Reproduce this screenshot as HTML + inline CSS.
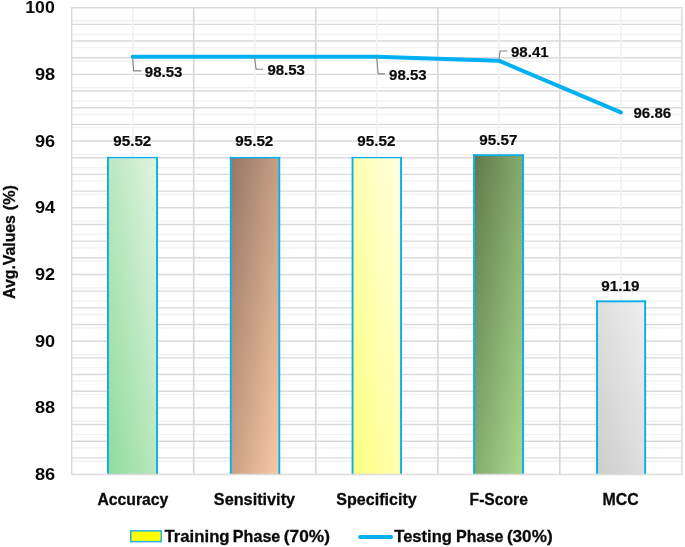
<!DOCTYPE html>
<html lang="en">
<head>
<meta charset="utf-8">
<title>Training and Testing Phase Chart</title>
<style>
html,body{margin:0;padding:0;background:#fff;}
body{width:685px;height:547px;overflow:hidden;}
svg{display:block;}
text{font-family:"Liberation Sans", sans-serif;font-weight:700;fill:#0a0a0a;}
.t14{font-size:16.7px;stroke:#0a0a0a;stroke-width:0.3px;}
.t14n{font-size:17.4px;}
.t12{font-size:14.1px;stroke:#0a0a0a;stroke-width:0.18px;}
</style>
</head>
<body>
<svg width="685" height="547" viewBox="0 0 685 547">
<defs>
<linearGradient id="g1" x1="0" y1="1" x2="1" y2="0"><stop offset="0" stop-color="#90db9b"/><stop offset="1" stop-color="#e2f4e2"/></linearGradient>
<linearGradient id="g2" x1="0" y1="0" x2="1" y2="1"><stop offset="0" stop-color="#947664"/><stop offset="1" stop-color="#fcc9a6"/></linearGradient>
<linearGradient id="g3" x1="0" y1="1" x2="1" y2="0"><stop offset="0" stop-color="#ffff7e"/><stop offset="1" stop-color="#ffffe2"/></linearGradient>
<linearGradient id="g4" x1="0" y1="0" x2="1" y2="1"><stop offset="0" stop-color="#5f7a4b"/><stop offset="1" stop-color="#abdb8e"/></linearGradient>
<linearGradient id="g5" x1="0" y1="1" x2="1" y2="0"><stop offset="0" stop-color="#cdcdcd"/><stop offset="1" stop-color="#efefef"/></linearGradient>
</defs>
<rect x="0" y="0" width="685" height="547" fill="#ffffff"/>
<g stroke="#dadada" stroke-width="1.4" fill="none">
<line x1="71.70" y1="24.33" x2="681.85" y2="24.33"/>
<line x1="71.70" y1="41.00" x2="681.85" y2="41.00"/>
<line x1="71.70" y1="57.68" x2="681.85" y2="57.68"/>
<line x1="71.70" y1="74.36" x2="681.85" y2="74.36"/>
<line x1="71.70" y1="91.03" x2="681.85" y2="91.03"/>
<line x1="71.70" y1="107.71" x2="681.85" y2="107.71"/>
<line x1="71.70" y1="124.39" x2="681.85" y2="124.39"/>
<line x1="71.70" y1="141.06" x2="681.85" y2="141.06"/>
<line x1="71.70" y1="157.74" x2="681.85" y2="157.74"/>
<line x1="71.70" y1="174.42" x2="681.85" y2="174.42"/>
<line x1="71.70" y1="191.09" x2="681.85" y2="191.09"/>
<line x1="71.70" y1="207.77" x2="681.85" y2="207.77"/>
<line x1="71.70" y1="224.45" x2="681.85" y2="224.45"/>
<line x1="71.70" y1="241.13" x2="681.85" y2="241.13"/>
<line x1="71.70" y1="257.80" x2="681.85" y2="257.80"/>
<line x1="71.70" y1="274.48" x2="681.85" y2="274.48"/>
<line x1="71.70" y1="291.16" x2="681.85" y2="291.16"/>
<line x1="71.70" y1="307.83" x2="681.85" y2="307.83"/>
<line x1="71.70" y1="324.51" x2="681.85" y2="324.51"/>
<line x1="71.70" y1="341.19" x2="681.85" y2="341.19"/>
<line x1="71.70" y1="357.86" x2="681.85" y2="357.86"/>
<line x1="71.70" y1="374.54" x2="681.85" y2="374.54"/>
<line x1="71.70" y1="391.22" x2="681.85" y2="391.22"/>
<line x1="71.70" y1="407.89" x2="681.85" y2="407.89"/>
<line x1="71.70" y1="424.57" x2="681.85" y2="424.57"/>
<line x1="71.70" y1="441.25" x2="681.85" y2="441.25"/>
<line x1="71.70" y1="457.92" x2="681.85" y2="457.92"/>
</g>
<g stroke="#f1f1f1" stroke-width="1.3" fill="none">
<line x1="71.70" y1="20.99" x2="681.85" y2="20.99"/>
<line x1="71.70" y1="34.33" x2="681.85" y2="34.33"/>
<line x1="71.70" y1="47.67" x2="681.85" y2="47.67"/>
<line x1="71.70" y1="61.02" x2="681.85" y2="61.02"/>
<line x1="71.70" y1="87.70" x2="681.85" y2="87.70"/>
<line x1="71.70" y1="101.04" x2="681.85" y2="101.04"/>
<line x1="71.70" y1="114.38" x2="681.85" y2="114.38"/>
<line x1="71.70" y1="127.72" x2="681.85" y2="127.72"/>
<line x1="71.70" y1="154.41" x2="681.85" y2="154.41"/>
<line x1="71.70" y1="167.75" x2="681.85" y2="167.75"/>
<line x1="71.70" y1="181.09" x2="681.85" y2="181.09"/>
<line x1="71.70" y1="194.43" x2="681.85" y2="194.43"/>
<line x1="71.70" y1="221.11" x2="681.85" y2="221.11"/>
<line x1="71.70" y1="234.45" x2="681.85" y2="234.45"/>
<line x1="71.70" y1="247.80" x2="681.85" y2="247.80"/>
<line x1="71.70" y1="261.14" x2="681.85" y2="261.14"/>
<line x1="71.70" y1="287.82" x2="681.85" y2="287.82"/>
<line x1="71.70" y1="301.16" x2="681.85" y2="301.16"/>
<line x1="71.70" y1="314.50" x2="681.85" y2="314.50"/>
<line x1="71.70" y1="327.84" x2="681.85" y2="327.84"/>
<line x1="71.70" y1="354.53" x2="681.85" y2="354.53"/>
<line x1="71.70" y1="367.87" x2="681.85" y2="367.87"/>
<line x1="71.70" y1="381.21" x2="681.85" y2="381.21"/>
<line x1="71.70" y1="394.55" x2="681.85" y2="394.55"/>
<line x1="71.70" y1="421.23" x2="681.85" y2="421.23"/>
<line x1="71.70" y1="434.58" x2="681.85" y2="434.58"/>
<line x1="71.70" y1="447.92" x2="681.85" y2="447.92"/>
<line x1="71.70" y1="461.26" x2="681.85" y2="461.26"/>
</g>
<g stroke="#d9d9d9" stroke-width="1.7" fill="none">
<line x1="193.73" y1="7.65" x2="193.73" y2="474.60"/>
<line x1="315.76" y1="7.65" x2="315.76" y2="474.60"/>
<line x1="437.79" y1="7.65" x2="437.79" y2="474.60"/>
<line x1="559.82" y1="7.65" x2="559.82" y2="474.60"/>
</g>
<g stroke="#f1f1f1" stroke-width="1.5" fill="none">
<line x1="132.72" y1="7.65" x2="132.72" y2="474.60"/>
<line x1="254.75" y1="7.65" x2="254.75" y2="474.60"/>
<line x1="376.77" y1="7.65" x2="376.77" y2="474.60"/>
<line x1="498.81" y1="7.65" x2="498.81" y2="474.60"/>
<line x1="620.84" y1="7.65" x2="620.84" y2="474.60"/>
</g>
<rect x="107.50" y="157.40" width="49.95" height="316.60" fill="url(#g1)"/>
<g fill="#0aaeed"><rect x="107.00" y="156.90" width="1.90" height="317.10"/><rect x="156.05" y="156.90" width="1.90" height="317.10"/><rect x="107.00" y="156.90" width="50.95" height="1.35"/></g>
<rect x="230.30" y="157.40" width="49.45" height="316.60" fill="url(#g2)"/>
<g fill="#0aaeed"><rect x="229.80" y="156.90" width="1.90" height="317.10"/><rect x="278.35" y="156.90" width="1.90" height="317.10"/><rect x="229.80" y="156.90" width="50.45" height="1.50"/></g>
<rect x="352.10" y="157.40" width="49.40" height="316.60" fill="url(#g3)"/>
<g fill="#0aaeed"><rect x="351.60" y="156.90" width="1.90" height="317.10"/><rect x="400.10" y="156.90" width="1.90" height="317.10"/><rect x="351.60" y="156.90" width="50.40" height="1.35"/></g>
<rect x="473.65" y="154.80" width="49.80" height="319.20" fill="url(#g4)"/>
<g fill="#0aaeed"><rect x="473.15" y="154.30" width="1.90" height="319.70"/><rect x="522.05" y="154.30" width="1.90" height="319.70"/><rect x="473.15" y="154.30" width="50.80" height="1.80"/></g>
<rect x="596.60" y="300.90" width="49.00" height="173.10" fill="url(#g5)"/>
<g fill="#0aaeed"><rect x="596.10" y="300.40" width="1.90" height="173.60"/><rect x="644.20" y="300.40" width="1.90" height="173.60"/><rect x="596.10" y="300.40" width="50.00" height="1.90"/></g>
<rect x="71.70" y="7.65" width="610.15" height="466.95" fill="none" stroke="#dcdcdc" stroke-width="1.5" stroke-linejoin="round"/>
<polyline points="132.72,56.68 254.75,56.68 376.77,56.68 498.81,60.68 620.84,112.38" fill="none" stroke="#00b0f0" stroke-width="4" stroke-linecap="round" stroke-linejoin="round"/>
<g stroke="#858585" stroke-width="1.15" fill="none">
<polyline points="132.6,57.5 133.7,70.9 141.4,70.9"/>
<polyline points="254.6,57.5 256.1,69.2 263,69.2"/>
<polyline points="376.7,57.5 378.1,73.9 384.9,73.9"/>
<polyline points="498.8,60 500.1,51 507.5,51"/>
</g>
<text class="t14n" x="25.25" y="13.25" textLength="29.50" lengthAdjust="spacingAndGlyphs">100</text>
<text class="t14n" x="34.90" y="79.96" textLength="20.20" lengthAdjust="spacingAndGlyphs">98</text>
<text class="t14n" x="34.90" y="146.66" textLength="20.20" lengthAdjust="spacingAndGlyphs">96</text>
<text class="t14n" x="34.90" y="213.37" textLength="20.20" lengthAdjust="spacingAndGlyphs">94</text>
<text class="t14n" x="34.90" y="280.08" textLength="20.20" lengthAdjust="spacingAndGlyphs">92</text>
<text class="t14n" x="34.90" y="346.79" textLength="20.20" lengthAdjust="spacingAndGlyphs">90</text>
<text class="t14n" x="34.90" y="413.49" textLength="20.20" lengthAdjust="spacingAndGlyphs">88</text>
<text class="t14n" x="34.90" y="480.20" textLength="20.20" lengthAdjust="spacingAndGlyphs">86</text>
<text class="t14" transform="translate(15.2,298.9) rotate(-90)" y="0"><tspan x="0" textLength="83.8" lengthAdjust="spacingAndGlyphs">Avg.Values</tspan> <tspan x="88.7" textLength="25.2" lengthAdjust="spacingAndGlyphs">(%)</tspan></text>
<text class="t14" x="97.40" y="504.80" textLength="71.00" lengthAdjust="spacingAndGlyphs">Accuracy</text>
<text class="t14" x="213.80" y="504.80" textLength="81.30" lengthAdjust="spacingAndGlyphs">Sensitivity</text>
<text class="t14" x="336.30" y="504.80" textLength="80.50" lengthAdjust="spacingAndGlyphs">Specificity</text>
<text class="t14" x="469.60" y="504.80" textLength="58.30" lengthAdjust="spacingAndGlyphs">F-Score</text>
<text class="t14" x="602.60" y="504.80" textLength="36.20" lengthAdjust="spacingAndGlyphs">MCC</text>
<text class="t12" x="113.22" y="146.00" textLength="38.10" lengthAdjust="spacingAndGlyphs">95.52</text>
<text class="t12" x="235.25" y="146.00" textLength="38.10" lengthAdjust="spacingAndGlyphs">95.52</text>
<text class="t12" x="357.27" y="146.00" textLength="38.10" lengthAdjust="spacingAndGlyphs">95.52</text>
<text class="t12" x="479.31" y="144.60" textLength="38.10" lengthAdjust="spacingAndGlyphs">95.57</text>
<text class="t12" x="601.34" y="290.60" textLength="38.10" lengthAdjust="spacingAndGlyphs">91.19</text>
<text class="t12" x="144.80" y="76.70" textLength="37.60" lengthAdjust="spacingAndGlyphs">98.53</text>
<text class="t12" x="267.40" y="75.30" textLength="37.60" lengthAdjust="spacingAndGlyphs">98.53</text>
<text class="t12" x="389.10" y="79.80" textLength="37.60" lengthAdjust="spacingAndGlyphs">98.53</text>
<text class="t12" x="511.00" y="56.50" textLength="37.60" lengthAdjust="spacingAndGlyphs">98.41</text>
<text class="t12" x="633.50" y="118.00" textLength="37.60" lengthAdjust="spacingAndGlyphs">96.86</text>
<rect x="130.75" y="530.85" width="30.5" height="10.8" fill="#ffff00" stroke="#1fb1ea" stroke-width="1.5"/>
<text class="t14" y="542.0"><tspan x="164.5" textLength="65.1" lengthAdjust="spacingAndGlyphs">Training</tspan> <tspan x="232.85" textLength="47.5" lengthAdjust="spacingAndGlyphs">Phase</tspan> <tspan x="283.8" textLength="46.1" lengthAdjust="spacingAndGlyphs">(70%)</tspan></text>
<line x1="360.1" y1="536.9" x2="391" y2="536.9" stroke="#00b0f0" stroke-width="4" stroke-linecap="round"/>
<text class="t14" y="542.0"><tspan x="394.3" textLength="57.6" lengthAdjust="spacingAndGlyphs">Testing</tspan> <tspan x="455.95" textLength="47.5" lengthAdjust="spacingAndGlyphs">Phase</tspan> <tspan x="506.9" textLength="45.7" lengthAdjust="spacingAndGlyphs">(30%)</tspan></text>
</svg>
</body>
</html>
